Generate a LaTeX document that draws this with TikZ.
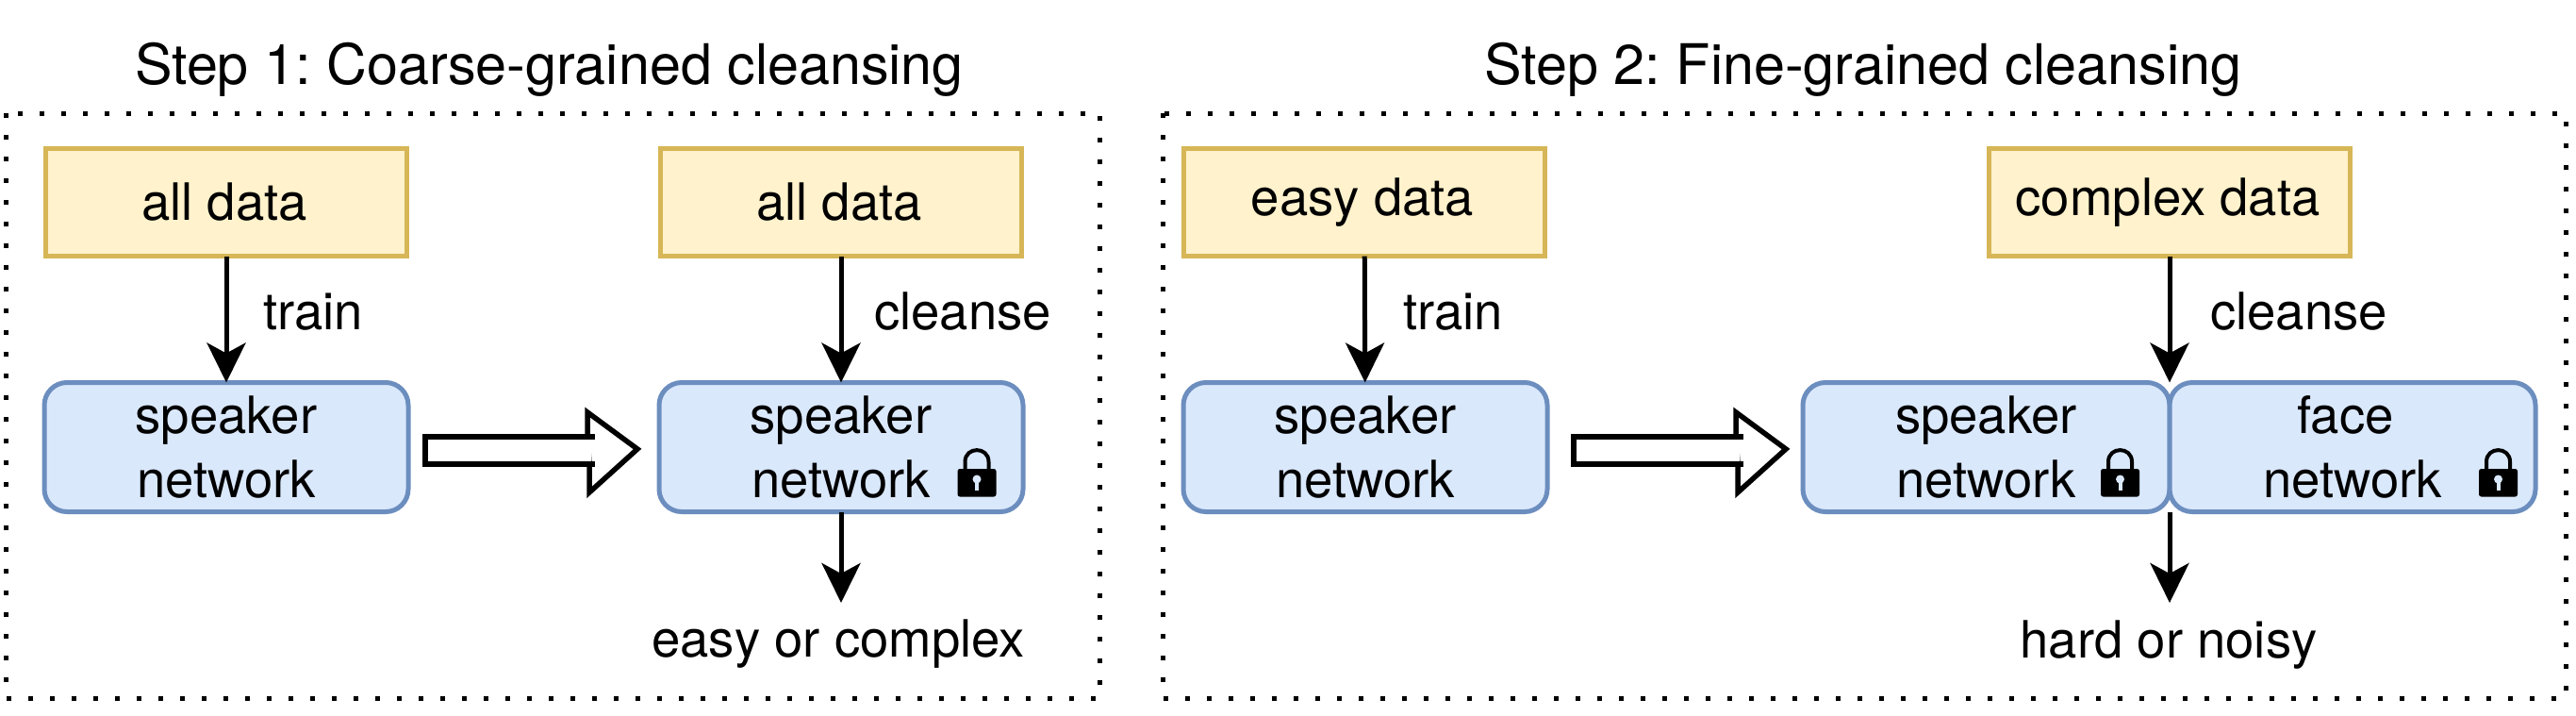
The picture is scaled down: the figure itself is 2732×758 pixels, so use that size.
\documentclass[tikz,border=0pt]{standalone}
\usepackage{fontspec}
\setmainfont{TeX Gyre Heros}
\frenchspacing
\usetikzlibrary{arrows.meta}
\definecolor{yfill}{HTML}{FFF2CC}
\definecolor{ydraw}{HTML}{D6B656}
\definecolor{bfill}{HTML}{DAE8FC}
\definecolor{bdraw}{HTML}{6C8EBF}
\tikzset{
  x=1pt,y=-1pt,
  base text/.style={font=\fontsize{54.5}{68}\selectfont,inner sep=0,outer sep=0,align=center},
  txt/.style={base text,anchor=base},
  ttl/.style={txt,font=\fontsize{59.3}{70}\selectfont},
  panel/.style={draw=black,line width=5pt,dash pattern=on 5pt off 18pt},
  databox/.style={base text,draw=ydraw,fill=yfill,line width=5pt,minimum width=383pt,minimum height=114pt,execute at end node={\hspace{4pt}\mbox{}}},
  netbox/.style={base text,draw=bdraw,fill=bfill,line width=5pt,minimum width=386pt,minimum height=137pt,rounded corners=24pt},
  conn/.style={line width=5pt,-{Stealth[length=42pt,width=41pt,inset=11pt]}},
  pics/hollowarrow/.style={code={
    \draw[line width=5.5pt,fill=white,miter limit=10] (172,-13) -- (172,-39) -- (225,0) -- (174,46) -- (174,16) -- cycle;
    \fill[white] (0,-13) rectangle (176,16);
    \draw[line width=5.5pt] (180,-13) -- (0,-13) -- (0,16) -- (180,16);
    \fill[white] (172,-10.25) -- (172,13.25) -- (176,13.25) -- (176,-10.25) -- cycle;
  }},
  pics/lockicon/.style={code={
    \draw[line width=4pt] (-12.5,18) -- (-12.5,-7.5) .. controls (-12.5,-24) and (12.5,-24) .. (12.5,-7.5) -- (12.5,18);
    \fill[black,rounded corners=2.5pt] (-20.5,0) rectangle (20.5,29.5);
    \fill[bfill] (0,11) circle[radius=4.5];
    \fill[bfill] (-2,11) rectangle (2,23);
  }}
}
\begin{document}
\begin{tikzpicture}
\useasboundingbox (0,0) rectangle (2732,758);
% panels
\path[panel] (6,120) rectangle (1166,740);
\path[panel] (1233,120) rectangle (2721,740);
% titles
\node[ttl] (t1) at (582.5,89) {Step 1: Coarse-grained cleansing};
\node[ttl] (t2) at (1976,89) {Step 2: Fine-grained cleansing};
% data boxes
\node[databox] (d1) at (240,214.5) {all data};
\node[databox] (d2) at (892,214.5) {all data};
\node[databox] (d3) at (1447,214.5) {easy data};
\node[databox] (d4) at (2301,214.5) {complex data};
% network boxes
\node[netbox] (n1) at (240,474) {speaker\\network};
\node[netbox] (n2) at (892,474) {speaker\\network};
\node[netbox] (n3) at (1448,474) {speaker\\network};
\node[netbox,minimum width=389pt] (n4) at (2106.5,474) {speaker\\network};
\node[netbox,minimum width=388pt] (n5) at (2495,474) {face\hspace{15pt}\mbox{}\\network};
% outputs
\node[txt] (o1) at (889,696) {easy or complex};
\node[txt] (o2) at (2300,697) {hard or noisy};
\coordinate (e1) at (892,639);
\coordinate (e2) at (2301,639);
% connector labels
\node[txt] (l1) at (332,349) {train};
\node[txt] (l2) at (1021,349) {cleanse};
\node[txt] (l3) at (1541,349) {train};
\node[txt] (l4) at (2438,349) {cleanse};
% connectors
\draw[conn] (d1) -- (n1);
\draw[conn] (d2) -- (n2);
\draw[conn] (d3) -- (n3);
\draw[conn] (d4.south) -- (n4.north east);
\draw[conn] (n2.south) -- (e1);
\draw[conn] (n4.south east) -- (e2);
% hollow arrows
\pic at (451,476) {hollowarrow};
\pic at (1669,476) {hollowarrow};
% locks
\pic at (1036,497) {lockicon};
\pic at (2248.5,497) {lockicon};
\pic at (2649.5,497) {lockicon};
\end{tikzpicture}
\end{document}
